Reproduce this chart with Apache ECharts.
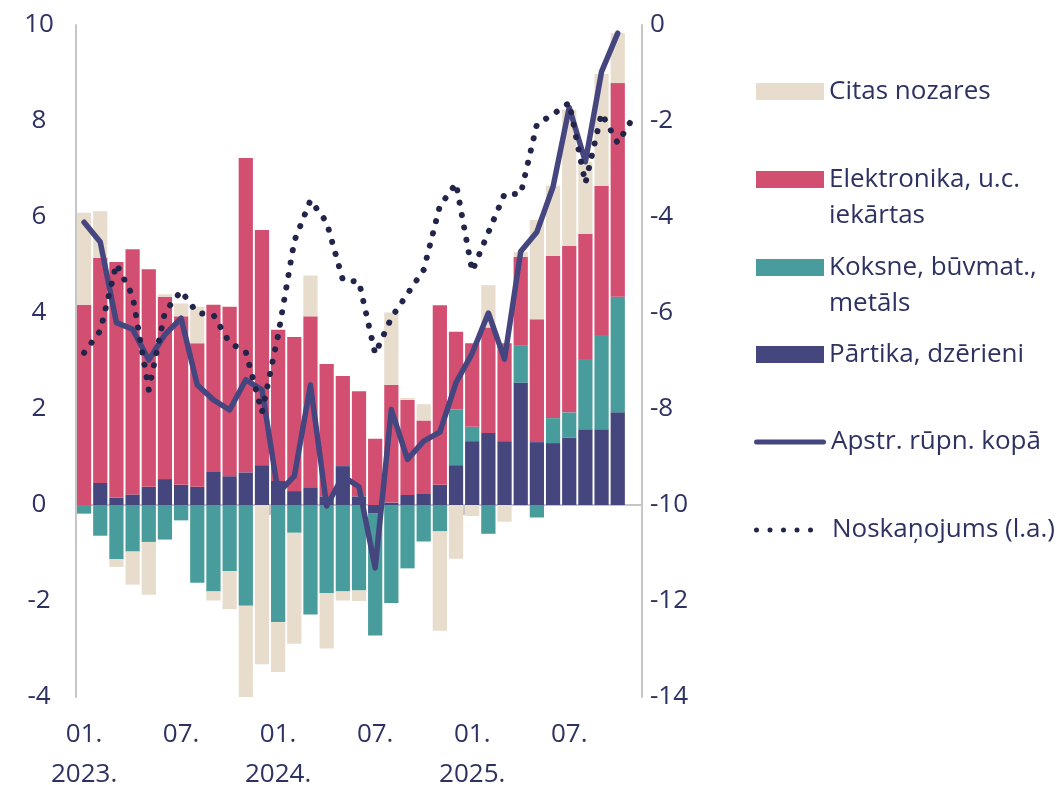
<!DOCTYPE html>
<html>
<head>
<meta charset="utf-8">
<script src="https://cdn.jsdelivr.net/npm/echarts@6/dist/echarts.min.js"></script>
<style>
  html, body { margin: 0; padding: 0; background: #fff; }
  #chart { width: 1063px; height: 785px; }
</style>
</head>
<body>
<div id="chart"></div>
<script>
// months, 01.2023 - 11.2025
const categories = [
  '2023-01', '2023-02', '2023-03', '2023-04', '2023-05', '2023-06',
  '2023-07', '2023-08', '2023-09', '2023-10', '2023-11', '2023-12',
  '2024-01', '2024-02', '2024-03', '2024-04', '2024-05', '2024-06',
  '2024-07', '2024-08', '2024-09', '2024-10', '2024-11', '2024-12',
  '2025-01', '2025-02', '2025-03', '2025-04', '2025-05', '2025-06',
  '2025-07', '2025-08', '2025-09', '2025-10', '2025-11'
];

// contributions (p.p.)
const partika = [0, 0.46, 0.15, 0.22, 0.38, 0.54, 0.42, 0.38, 0.69, 0.60, 0.68, 0.83,
  0.50, 0.29, 0.37, 0.18, 0.81, 0.18, -0.18, 0.05, 0.21, 0.23, 0.42, 0.83,
  1.33, 1.50, 1.33, 2.55, 1.31, 1.29, 1.40, 1.58, 1.58, 1.93];
const koksne = [-0.18, -0.64, -1.13, -0.97, -0.77, -0.72, -0.32, -1.62, -1.80, -1.38, -2.10, 0,
  -2.44, -0.58, -2.28, -1.84, -1.80, -1.78, -2.54, -2.04, -1.32, -0.76, -0.55, 1.16,
  0.30, -0.60, 0, 0.77, -0.26, 0.52, 0.53, 1.46, 1.96, 2.41];
const elektronika = [4.17, 4.69, 4.91, 5.11, 4.53, 3.80, 3.51, 2.99, 3.48, 3.53, 6.55, 4.90,
  3.15, 3.21, 3.56, 2.76, 1.88, 2.19, 1.38, 2.45, 1.98, 1.53, 3.74, 1.62,
  1.74, 2.20, 2.04, 1.85, 2.56, 3.38, 3.47, 2.61, 3.11, 4.45];
const citas = [1.92, 0.97, -0.16, -0.69, -1.10, 0.05, 0.27, 0.76, -0.19, -0.79, -1.96, -3.32,
  -1.04, -2.31, 0.85, -1.15, -0.19, -0.22, 0, 1.51, 0.04, 0.34, -2.07, -1.12,
  -0.23, 0.88, -0.35, 0.10, 2.07, 1.46, 2.84, 1.50, 2.33, 1.04];

// total manufacturing (left axis)
const apstr = [5.89, 5.48, 3.80, 3.66, 3.02, 3.55, 3.89, 2.50, 2.19, 1.98, 2.61, 2.40,
  0.25, 0.60, 2.50, -0.02, 0.60, 0.38, -1.31, 1.99, 0.95, 1.33, 1.52, 2.55,
  3.16, 4.00, 3.04, 5.28, 5.69, 6.63, 8.28, 7.15, 9.03, 9.83];

// sentiment (right axis)
const noskanojums = [-6.83, -6.37, -4.98, -5.64, -7.60, -5.98, -5.54, -6.00, -6.04, -6.62, -6.81, -8.07,
  -6.46, -4.50, -3.65, -4.11, -5.31, -5.35, -6.85, -6.10, -5.60, -5.10, -3.77, -3.30,
  -5.13, -4.32, -3.52, -3.52, -2.07, -1.86, -1.62, -3.30, -1.84, -2.46, -1.90];

const leftAxis = { min: -4, max: 10, interval: 2 };
const rightAxis = { min: -14, max: 0, interval: 2 };

const textColor = '#2e3262';
const axisGray = '#c6c6c6';
const fontFamily = 'Open Sans';

const colors = {
  citas: '#e8ddcd',
  elektronika: '#d34f72',
  koksne: '#489c9b',
  partika: '#45467e',
  apstr: '#45467f',
  nosk: '#22244a'
};

const names = {
  citas: 'Citas nozares',
  elektronika: 'Elektronika, u.c. iekārtas',
  koksne: 'Koksne, būvmat., metāls',
  partika: 'Pārtika, dzērieni',
  apstr: 'Apstr. rūpn. kopā',
  nosk: 'Noskaņojums (l.a.)'
};

const dotsIcon = 'path://M0,2.5a2.5,2.5 0 1,0 5,0a2.5,2.5 0 1,0 -5,0' +
  'M13.5,2.5a2.5,2.5 0 1,0 5,0a2.5,2.5 0 1,0 -5,0' +
  'M27,2.5a2.5,2.5 0 1,0 5,0a2.5,2.5 0 1,0 -5,0' +
  'M40.5,2.5a2.5,2.5 0 1,0 5,0a2.5,2.5 0 1,0 -5,0' +
  'M54,2.5a2.5,2.5 0 1,0 5,0a2.5,2.5 0 1,0 -5,0Z';
const lineIcon = 'path://M2.5,0H69.5A2.5,2.5 0 0,1 69.5,5H2.5A2.5,2.5 0 0,1 2.5,0Z';

// one legend block per item so the rows keep their own spacing.
// two-line labels get an empty first row so the swatch lines up with row one
function legendItem(name, centerY, opts) {
  const o = opts || {};
  const lines = o.lines || null;
  const rich = { t: { color: textColor, fontSize: 26, fontFamily: fontFamily, lineHeight: 36 } };
  let formatter = '{t|{name}}';
  if (lines) formatter = () => '{t| }\n' + lines.map(l => '{t|' + l + '}').join('\n');
  return {
    data: [{ name: name, icon: o.icon || 'rect' }],
    left: o.left || 756,
    top: centerY - (lines ? 54 : 18) + 7,
    orient: 'vertical',
    padding: 0,
    itemWidth: o.w || 68,
    itemHeight: o.h || 17,
    selectedMode: false,
    formatter: formatter,
    textStyle: {
      color: textColor,
      fontSize: 26,
      fontFamily: fontFamily,
      padding: o.padLeft ? [0, 0, 0, o.padLeft] : 0,
      rich: rich
    }
  };
}

function barSeries(name, values, color) {
  return {
    name: name,
    type: 'bar',
    stack: 'total',
    data: values,
    barWidth: '88%',
    itemStyle: { color: color },
    emphasis: { disabled: true }
  };
}

const chart = echarts.init(document.getElementById('chart'));

const option = {
  animation: false,
  backgroundColor: '#fff',
  textStyle: { fontFamily: fontFamily },
  grid: { left: 76, right: 421, top: 25, bottom: 88, outerBoundsMode: 'none', containLabel: false },
  legend: [
    legendItem(names.citas, 89.5),
    legendItem(names.elektronika, 177.5, { lines: ['Elektronika, u.c.', 'iekārtas'] }),
    legendItem(names.koksne, 265.5, { lines: ['Koksne, būvmat.,', 'metāls'] }),
    legendItem(names.partika, 352.5),
    legendItem(names.apstr, 440, { icon: lineIcon, left: 754, w: 72, h: 5 }),
    legendItem(names.nosk, 528, { icon: dotsIcon, left: 754, w: 59, h: 5, padLeft: 14 })
  ],
  xAxis: [
    {
      type: 'category',
      data: categories,
      position: 'bottom',
      axisLine: { show: false, onZero: false },
      axisTick: { show: false },
      axisLabel: {
        interval: (i) => i % 6 === 0,
        margin: 18,
        color: textColor,
        fontSize: 26,
        fontFamily: fontFamily,
        lineHeight: 40,
        formatter: (v) => {
          const [y, m] = v.split('-');
          return m === '01' ? m + '.\n' + y + '.' : m + '.';
        }
      }
    },
    {
      type: 'category',
      data: categories,
      position: 'bottom',
      axisLine: { show: true, onZero: true, onZeroAxisIndex: 0, lineStyle: { color: axisGray, width: 2 } },
      axisTick: { show: true, interval: (i) => i % 12 === 0, length: 10, lineStyle: { color: axisGray, width: 2 } },
      axisLabel: { show: false },
      splitLine: { show: false }
    }
  ],
  yAxis: [
    {
      type: 'value',
      position: 'left',
      min: leftAxis.min,
      max: leftAxis.max,
      interval: leftAxis.interval,
      axisLine: { show: true, lineStyle: { color: axisGray, width: 2 } },
      axisTick: { show: false },
      splitLine: { show: false },
      axisLabel: { color: textColor, fontSize: 26, fontFamily: fontFamily, align: 'center', margin: 37 }
    },
    {
      type: 'value',
      position: 'right',
      min: rightAxis.min,
      max: rightAxis.max,
      interval: rightAxis.interval,
      axisLine: { show: true, lineStyle: { color: axisGray, width: 2 } },
      axisTick: { show: false },
      splitLine: { show: false },
      axisLabel: { color: textColor, fontSize: 26, fontFamily: fontFamily, align: 'left', margin: 8 }
    }
  ],
  series: [
    barSeries(names.partika, partika, colors.partika),
    barSeries(names.koksne, koksne, colors.koksne),
    barSeries(names.elektronika, elektronika, colors.elektronika),
    barSeries(names.citas, citas, colors.citas),
    {
      name: names.apstr,
      type: 'line',
      data: apstr,
      yAxisIndex: 0,
      symbol: 'none',
      z: 5,
      itemStyle: { color: colors.apstr },
      lineStyle: { color: colors.apstr, width: 5.5, cap: 'round', join: 'round' },
      emphasis: { disabled: true }
    },
    {
      name: names.nosk,
      type: 'line',
      data: noskanojums,
      yAxisIndex: 1,
      symbol: 'none',
      z: 6,
      itemStyle: { color: colors.nosk },
      lineStyle: { color: colors.nosk, width: 6, type: [0.1, 12.5], cap: 'round', join: 'round' },
      emphasis: { disabled: true }
    }
  ]
};

chart.setOption(option);
</script>
</body>
</html>
